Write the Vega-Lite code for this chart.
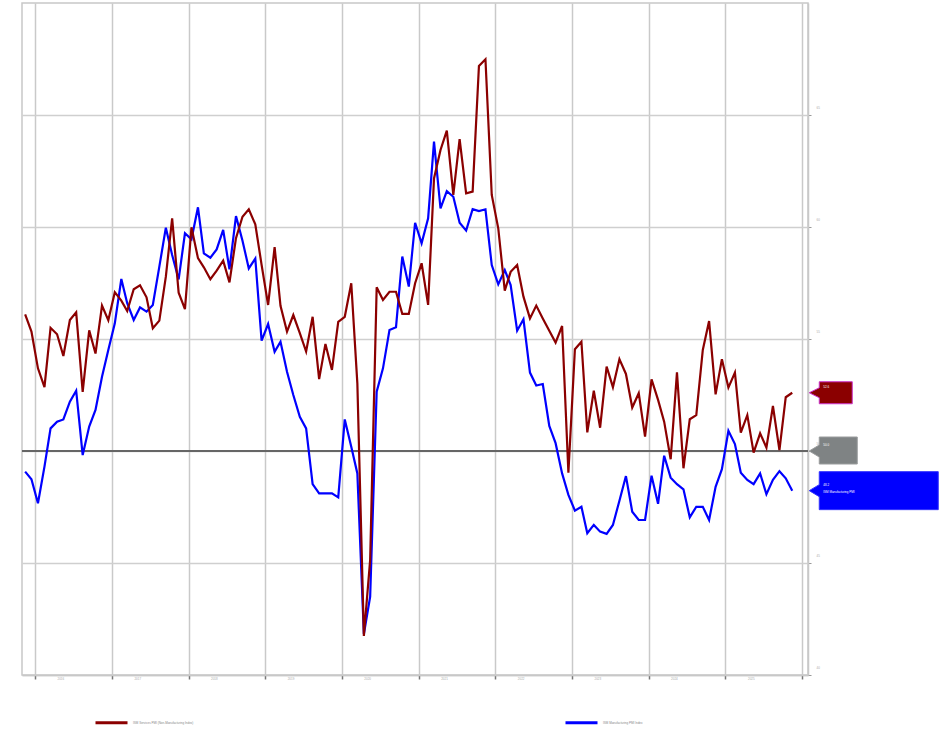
{
  "$schema": "https://vega.github.io/schema/vega-lite/v6.json",
  "width": 786,
  "height": 672,
  "autosize": {"type": "none"},
  "padding": {"left": 22, "top": 3, "right": 143, "bottom": 55},
  "background": "white",
  "config": {"view": {"stroke": "#c8c8c8", "strokeWidth": 1.5}, "font": "Liberation Sans"},
  "datasets": {
    "pmi": [
      {"d":"2015-11-15","s":56.1,"m":49.08},{"d":"2015-12-15","s":55.33,"m":48.74},
      {"d":"2016-01-15","s":53.69,"m":47.67},{"d":"2016-02-15","s":52.85,"m":49.3},{"d":"2016-03-15","s":55.5,"m":51.01},{"d":"2016-04-15","s":55.21,"m":51.31},{"d":"2016-05-15","s":54.24,"m":51.41},{"d":"2016-06-15","s":55.85,"m":52.2},{"d":"2016-07-15","s":56.19,"m":52.69},{"d":"2016-08-15","s":52.64,"m":49.82},{"d":"2016-09-15","s":55.39,"m":51.09},{"d":"2016-10-15","s":54.35,"m":51.83},{"d":"2016-11-15","s":56.49,"m":53.31},{"d":"2016-12-15","s":55.84,"m":54.51},
      {"d":"2017-01-15","s":57.09,"m":55.7},{"d":"2017-02-15","s":56.71,"m":57.68},{"d":"2017-03-15","s":56.25,"m":56.6},{"d":"2017-04-15","s":57.22,"m":55.85},{"d":"2017-05-15","s":57.4,"m":56.41},{"d":"2017-06-15","s":56.86,"m":56.22},{"d":"2017-07-15","s":55.48,"m":56.52},{"d":"2017-08-15","s":55.82,"m":58.23},{"d":"2017-09-15","s":57.78,"m":59.97},{"d":"2017-10-15","s":60.39,"m":58.75},{"d":"2017-11-15","s":57.07,"m":57.66},{"d":"2017-12-15","s":56.33,"m":59.72},
      {"d":"2018-01-15","s":59.99,"m":59.45},{"d":"2018-02-15","s":58.61,"m":60.88},{"d":"2018-03-15","s":58.2,"m":58.82},{"d":"2018-04-15","s":57.67,"m":58.63},{"d":"2018-05-15","s":58.05,"m":59.0},{"d":"2018-06-15","s":58.5,"m":59.87},{"d":"2018-07-15","s":57.53,"m":58.11},{"d":"2018-08-15","s":59.5,"m":60.49},{"d":"2018-09-15","s":60.46,"m":59.39},{"d":"2018-10-15","s":60.79,"m":58.15},{"d":"2018-11-15","s":60.12,"m":58.59},{"d":"2018-12-15","s":58.31,"m":54.93},
      {"d":"2019-01-15","s":56.52,"m":55.67},{"d":"2019-02-15","s":59.1,"m":54.43},{"d":"2019-03-15","s":56.48,"m":54.88},{"d":"2019-04-15","s":55.33,"m":53.54},{"d":"2019-05-15","s":56.07,"m":52.5},{"d":"2019-06-15","s":55.26,"m":51.53},{"d":"2019-07-15","s":54.44,"m":51.01},{"d":"2019-08-15","s":55.99,"m":48.52},{"d":"2019-09-15","s":53.21,"m":48.11},{"d":"2019-10-15","s":54.78,"m":48.11},{"d":"2019-11-15","s":53.62,"m":48.11},{"d":"2019-12-15","s":55.77,"m":47.93},
      {"d":"2020-01-15","s":55.99,"m":51.41},{"d":"2020-02-15","s":57.49,"m":50.19},{"d":"2020-03-15","s":53.02,"m":49.0},{"d":"2020-04-15","s":41.74,"m":41.83},{"d":"2020-05-15","s":45.14,"m":43.5},{"d":"2020-06-15","s":57.31,"m":52.65},{"d":"2020-07-15","s":56.74,"m":53.69},{"d":"2020-08-15","s":57.11,"m":55.4},{"d":"2020-09-15","s":57.11,"m":55.52},{"d":"2020-10-15","s":56.12,"m":58.68},{"d":"2020-11-15","s":56.12,"m":57.34},{"d":"2020-12-15","s":57.49,"m":60.19},
      {"d":"2021-01-15","s":58.38,"m":59.27},{"d":"2021-02-15","s":56.52,"m":60.39},{"d":"2021-03-15","s":62.17,"m":63.81},{"d":"2021-04-15","s":63.44,"m":60.83},{"d":"2021-05-15","s":64.3,"m":61.6},{"d":"2021-06-15","s":61.43,"m":61.35},{"d":"2021-07-15","s":63.92,"m":60.19},{"d":"2021-08-15","s":61.5,"m":59.84},{"d":"2021-09-15","s":61.58,"m":60.8},{"d":"2021-10-15","s":67.19,"m":60.71},{"d":"2021-11-15","s":67.49,"m":60.79},{"d":"2021-12-15","s":61.43,"m":58.3},
      {"d":"2022-01-15","s":59.94,"m":57.44},{"d":"2022-02-15","s":57.16,"m":58.08},{"d":"2022-03-15","s":58.0,"m":57.41},{"d":"2022-04-15","s":58.3,"m":55.37},{"d":"2022-05-15","s":56.89,"m":55.88},{"d":"2022-06-15","s":55.92,"m":53.5},{"d":"2022-07-15","s":56.49,"m":52.92},{"d":"2022-08-15","s":55.92,"m":52.99},{"d":"2022-09-15","s":55.37,"m":51.12},{"d":"2022-10-15","s":54.84,"m":50.35},{"d":"2022-11-15","s":55.58,"m":49.0},{"d":"2022-12-15","s":49.03,"m":48.04},
      {"d":"2023-01-15","s":54.54,"m":47.34},{"d":"2023-02-15","s":54.88,"m":47.51},{"d":"2023-03-15","s":50.83,"m":46.33},{"d":"2023-04-15","s":52.69,"m":46.7},{"d":"2023-05-15","s":51.04,"m":46.4},{"d":"2023-06-15","s":53.77,"m":46.3},{"d":"2023-07-15","s":52.85,"m":46.7},{"d":"2023-08-15","s":54.1,"m":47.78},{"d":"2023-09-15","s":53.44,"m":48.88},{"d":"2023-10-15","s":51.94,"m":47.29},{"d":"2023-11-15","s":52.58,"m":46.92},{"d":"2023-12-15","s":50.64,"m":46.92},
      {"d":"2024-01-15","s":53.2,"m":48.9},{"d":"2024-02-15","s":52.28,"m":47.64},{"d":"2024-03-15","s":51.31,"m":49.79},{"d":"2024-04-15","s":49.63,"m":48.81},{"d":"2024-05-15","s":53.51,"m":48.52},{"d":"2024-06-15","s":49.23,"m":48.29},{"d":"2024-07-15","s":51.42,"m":47.04},{"d":"2024-08-15","s":51.6,"m":47.51},{"d":"2024-09-15","s":54.51,"m":47.51},{"d":"2024-10-15","s":55.8,"m":46.92},{"d":"2024-11-15","s":52.53,"m":48.4},{"d":"2024-12-15","s":54.1,"m":49.19},
      {"d":"2025-01-15","s":52.83,"m":50.9},{"d":"2025-02-15","s":53.5,"m":50.31},{"d":"2025-03-15","s":50.82,"m":49.03},{"d":"2025-04-15","s":51.6,"m":48.71},{"d":"2025-05-15","s":49.93,"m":48.52},{"d":"2025-06-15","s":50.79,"m":49.0},{"d":"2025-07-15","s":50.15,"m":48.07},{"d":"2025-08-15","s":52.01,"m":48.71},{"d":"2025-09-15","s":50.04,"m":49.1},{"d":"2025-10-15","s":52.4,"m":48.78},{"d":"2025-11-15","s":52.6,"m":48.23}
    ]
  },
  "layer": [
    {
      "data": {"values": [{}]},
      "mark": {"type": "rule", "color": "#666666", "strokeWidth": 2},
      "encoding": {"y": {"datum": 50, "type": "quantitative"}}
    },
    {
      "data": {"name": "pmi"},
      "transform": [{"fold": ["m", "s"], "as": ["k", "v"]}],
      "mark": {"type": "line", "strokeWidth": 2.2, "clip": true},
      "encoding": {
        "x": {
          "field": "d", "type": "temporal",
          "scale": {"domain": [{"year": 2015, "month": 10, "date": 31}, {"year": 2026, "month": 1, "date": 29}]},
          "axis": {"title": null, "grid": true, "gridColor": "#c9c9c9", "gridWidth": 1.5, "tickCount": {"interval": "year", "step": 1}, "format": "%Y", "labelExpr": "year(datum.value) >= 2026 ? '' : datum.label", "labelFontSize": 3, "labelColor": "#aaaaaa", "labelAlign": "left", "labelOffset": 22, "labelPadding": -2, "labelFlush": false, "labelOverlap": false, "tickColor": "#777777", "tickSize": 4, "tickWidth": 1.5, "domainColor": "#c8c8c8", "domainWidth": 1.5}
        },
        "y": {
          "field": "v", "type": "quantitative",
          "scale": {"domain": [40, 70], "nice": false, "zero": false},
          "axis": {"orient": "right", "title": null, "values": [40, 45, 50, 55, 60, 65], "grid": true, "gridColor": "#cfcfcf", "gridWidth": 1.5, "labelFontSize": 3, "labelColor": "#aaaaaa", "labelOffset": -8, "labelPadding": 5, "tickColor": "#999999", "tickSize": 3, "domainColor": "#c8c8c8", "domainWidth": 1.5}
        },
        "color": {
          "field": "k", "type": "nominal",
          "scale": {"domain": ["s", "m"], "range": ["#8b0000", "#0000ff"]},
          "legend": {"orient": "none", "legendX": 72, "legendY": 702, "direction": "horizontal", "title": null, "symbolType": "stroke", "symbolSize": 1024, "symbolStrokeWidth": 3, "labelFontSize": 3, "labelColor": "#888888", "labelOffset": 4, "columnPadding": 365, "labelLimit": 0, "padding": 0,
            "labelExpr": "datum.label == 's' ? 'ISM Services PMI (Non-Manufacturing Index)' : 'ISM Manufacturing PMI Index'"}
        }
      }
    },
    {
      "data": {"values": [{"d": "2025-11-15", "v": 52.6, "t": "52.6"}]},
      "mark": {"type": "point", "shape": "M17,0 L27,-5 L27,-11 L60,-11 L60,11 L27,11 L27,5 Z", "size": 4, "filled": true, "fill": "#8b0000", "stroke": "#cc33cc", "strokeWidth": 1, "opacity": 1},
      "encoding": {"x": {"field": "d", "type": "temporal"}, "y": {"field": "v", "type": "quantitative"}}
    },
    {
      "data": {"values": [{"d": "2025-11-15", "v": 50, "t": "50.0"}]},
      "mark": {"type": "point", "shape": "M17,0 L27,-6 L27,-14 L65,-14 L65,13 L27,13 L27,6 Z", "size": 4, "filled": true, "fill": "#7f8384", "stroke": "#9a9c9d", "strokeWidth": 1, "opacity": 1},
      "encoding": {"x": {"field": "d", "type": "temporal"}, "y": {"field": "v", "type": "quantitative"}}
    },
    {
      "data": {"values": [{"d": "2025-11-15", "v": 48.23, "t": "48.2"}]},
      "mark": {"type": "point", "shape": "M17,0 L27,-6 L27,-19 L146,-19 L146,19 L27,19 L27,6 Z", "size": 4, "filled": true, "fill": "#0000ff", "stroke": "#3333ff", "strokeWidth": 1, "opacity": 1},
      "encoding": {"x": {"field": "d", "type": "temporal"}, "y": {"field": "v", "type": "quantitative"}}
    },
    {
      "data": {"values": [{"d": "2025-11-15", "v": 52.6, "t": "52.6"}, {"d": "2025-11-15", "v": 50, "t": "50.0"}, {"d": "2025-11-15", "v": 48.23, "t": "48.2"}]},
      "mark": {"type": "text", "align": "left", "baseline": "middle", "dx": 31, "dy": -6, "fontSize": 3, "color": "#ffffff"},
      "encoding": {"x": {"field": "d", "type": "temporal"}, "y": {"field": "v", "type": "quantitative"}, "text": {"field": "t"}}
    },
    {
      "data": {"values": [{"d": "2025-11-15", "v": 48.23, "t": "ISM Manufacturing PMI"}]},
      "mark": {"type": "text", "align": "left", "baseline": "middle", "dx": 31, "dy": 1, "fontSize": 3, "color": "#ffffff"},
      "encoding": {"x": {"field": "d", "type": "temporal"}, "y": {"field": "v", "type": "quantitative"}, "text": {"field": "t"}}
    }
  ]
}
